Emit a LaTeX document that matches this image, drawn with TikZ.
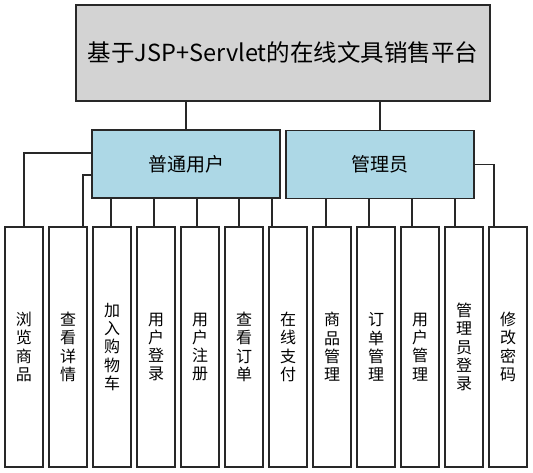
\documentclass[tikz,border=0pt]{standalone}
\usepackage{fontspec}
\setmainfont{Noto Sans CJK SC}
\definecolor{topgray}{RGB}{211,211,211}
\definecolor{roleblue}{RGB}{173,216,230}
\definecolor{edgegray}{RGB}{40,40,40}

\begin{document}
\begin{tikzpicture}[x=1pt,y=-1pt,
	topbox/.style={draw=edgegray, line width=1.2pt, fill=topgray, minimum width=414pt, minimum height=96pt, inner sep=0pt, font=\fontsize{23.5pt}{27pt}\selectfont},
	rolebox/.style={draw=edgegray, line width=1.2pt, fill=roleblue, minimum width=188pt, minimum height=68pt, inner sep=0pt, font=\fontsize{19pt}{22pt}\selectfont},
	leafbox/.style={draw=edgegray, line width=1.2pt, fill=white, minimum width=38pt, minimum height=240pt, inner sep=0pt, align=center, font=\fontsize{16pt}{18.3pt}\selectfont},
	link/.style={draw=edgegray, line width=1.2pt}]

	\useasboundingbox (0,0) rectangle (533,473);

	% Top
	\node[topbox] (title) at (283,53) {基于JSP+Servlet的在线文具销售平台};

	% Roles
	\node[rolebox] (user) at (186,164) {普通用户};
	\node[rolebox] (admin) at (380,164.5) {管理员};

	% Leaves
	\node[leafbox] (l1) at (24,347) {浏\\览\\商\\品};
	\node[leafbox] (l2) at (68,347) {查\\看\\详\\情};
	\node[leafbox] (l3) at (112,347) {加\\入\\购\\物\\车};
	\node[leafbox] (l4) at (156,347) {用\\户\\登\\录};
	\node[leafbox] (l5) at (200,347) {用\\户\\注\\册};
	\node[leafbox] (l6) at (244,347) {查\\看\\订\\单};
	\node[leafbox] (l7) at (288,347) {在\\线\\支\\付};
	\node[leafbox] (l8) at (332,347) {商\\品\\管\\理};
	\node[leafbox] (l9) at (376,347) {订\\单\\管\\理};
	\node[leafbox] (l10) at (420,347) {用\\户\\管\\理};
	\node[leafbox] (l11) at (464,347) {管\\理\\员\\登\\录};
	\node[leafbox] (l12) at (508,347) {修\\改\\密\\码};

	% Top to roles
	\draw[link] (title.south -| user.north) -- (user.north);
	\draw[link] (title.south -| admin.north) -- (admin.north);

	% User branches
	\draw[link] ([yshift=11pt]user.west) -| (l1.north);
	\draw[link] ([yshift=-11pt]user.west) -| ([xshift=15pt]l2.north);
	\draw[link] ([xshift=-1pt]l3.north) -- ([xshift=-1pt]l3.north |- user.south);
	\draw[link] ([xshift=-2pt]l4.north) -- ([xshift=-2pt]l4.north |- user.south);
	\draw[link] ([xshift=-3pt]l5.north) -- ([xshift=-3pt]l5.north |- user.south);
	\draw[link] ([xshift=-5pt]l6.north) -- ([xshift=-5pt]l6.north |- user.south);
	\draw[link] ([xshift=-16pt]l7.north) -- ([xshift=-16pt]l7.north |- user.south);

	% Admin branches
	\draw[link] ([xshift=-6pt]l8.north) -- ([xshift=-6pt]l8.north |- admin.south);
	\draw[link] ([xshift=-7pt]l9.north) -- ([xshift=-7pt]l9.north |- admin.south);
	\draw[link] ([xshift=-8pt]l10.north) -- ([xshift=-8pt]l10.north |- admin.south);
	\draw[link] ([xshift=-9pt]l11.north) -- ([xshift=-9pt]l11.north |- admin.south);
	\draw[link] (admin.east) -| ([xshift=-14pt]l12.north);

\end{tikzpicture}
\end{document}
